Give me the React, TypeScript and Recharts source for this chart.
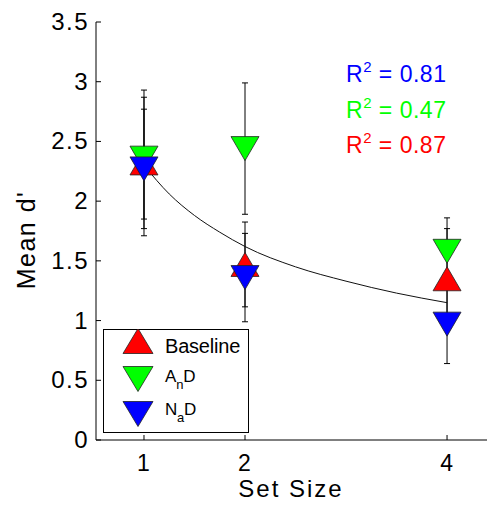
import { ComposedChart, Scatter, Line, XAxis, YAxis, ErrorBar, Legend } from "recharts";

// set sizes on the x axis
const setSizes = [1, 2, 4];

// mean d' and error half-widths
const baselineMean = [2.32, 1.47, 1.35];
const baselineErr = [0.61, 0.355, 0.42];
const andMean = [2.36, 2.44, 1.58];
const andErr = [0.51, 0.55, 0.28];
const nadMean = [2.27, 1.36, 0.97];
const nadErr = [0.5, 0.37, 0.33];

// fitted curve, points
const fitX = [1, 1.25, 1.5, 1.75, 2, 2.5, 3, 3.5, 4];
const fitY = [2.3, 2.06, 1.88, 1.74, 1.62, 1.45, 1.33, 1.23, 1.15];

const yTicks = [0, 0.5, 1, 1.5, 2, 2.5, 3, 3.5];

const rSquared = [
    { label: "0.81", color: "#0000FF" },
    { label: "0.47", color: "#00FF00" },
    { label: "0.87", color: "#FF0000" },
];

const FONT = "'Liberation Sans', Arial, sans-serif";

const toPoints = (means: number[], errs: number[]) =>
    setSizes.map((x, i) => ({ x, y: means[i], err: errs[i] }));

const baselineData = toPoints(baselineMean, baselineErr);
const andData = toPoints(andMean, andErr);
const nadData = toPoints(nadMean, nadErr);
const fitData = fitX.map((x, i) => ({ x, y: fitY[i] }));

const PLOT_TOP = 22;
const PLOT_BOTTOM = 440;
const PLOT_LEFT = 96;
// the axes box runs past the right edge of the picture, as in the original
const CHART_W = 492;
const X_DOMAIN = [0.525, 4.445];

function triangle(cx: number, cy: number, up: boolean, w = 28, h = 24) {
    const hw = w / 2;
    const hh = h / 2;
    return up
        ? `M${cx - hw},${cy + hh} L${cx + hw},${cy + hh} L${cx},${cy - hh} Z`
        : `M${cx - hw},${cy - hh} L${cx + hw},${cy - hh} L${cx},${cy + hh} Z`;
}

const makeShape = (fill: string, up: boolean) => (props: any) => {
    const { cx, cy } = props;
    if (cx == null || cy == null) return <g />;
    return <path d={triangle(cx, cy, up)} fill={fill} stroke="#222" strokeWidth={0.8} />;
};

const BottomTick = (props: any) => {
    const { x, payload } = props;
    return (
        <g>
            <line x1={x} y1={PLOT_BOTTOM} x2={x} y2={PLOT_BOTTOM - 5} stroke="#000" />
            <text x={x} y={PLOT_BOTTOM + 31} textAnchor="middle" fontSize={23} fontFamily={FONT} fill="#000" letterSpacing={1}>
                {payload.value}
            </text>
        </g>
    );
};

const TopTick = (props: any) => {
    const { x } = props;
    return <line x1={x} y1={PLOT_TOP} x2={x} y2={PLOT_TOP + 5} stroke="#000" />;
};

const LeftTick = (props: any) => {
    const { y, payload } = props;
    return (
        <g>
            <line x1={PLOT_LEFT} y1={y} x2={PLOT_LEFT + 5} y2={y} stroke="#000" />
            <text x={PLOT_LEFT - 7} y={y + 8} textAnchor="end" fontSize={24} fontFamily={FONT} fill="#000" letterSpacing={1.5}>
                {payload.value}
            </text>
        </g>
    );
};

const legendRows = [
    { fill: "#FF0000", up: true, main: "Baseline", sub: "", tail: "", cy: 12, base: 24, size: 20 },
    { fill: "#00FF00", up: false, main: "A", sub: "n", tail: "D", cy: 50, base: 52.5, size: 17 },
    { fill: "#0000FF", up: false, main: "N", sub: "a", tail: "D", cy: 85, base: 86, size: 17 },
];

const LegendBox = () => (
    <svg width={146} height={104} style={{ display: "block" }}>
        <rect x={0.5} y={0.5} width={145} height={103} fill="#fff" stroke="#000" />
        {legendRows.map((r) => (
            <g key={r.main}>
                <path d={triangle(35, r.cy, r.up, 30, 25)} fill={r.fill} stroke="#222" strokeWidth={0.8} />
                <text x={62} y={r.base} fontSize={r.size} fontFamily={FONT} fill="#000" letterSpacing={-0.2}>
                    {r.main}
                    {r.sub && (
                        <tspan dy={7} fontSize={13}>
                            {r.sub}
                        </tspan>
                    )}
                    {r.tail && <tspan dy={-7}>{r.tail}</tspan>}
                </text>
            </g>
        ))}
    </svg>
);

export default function App() {
    return (
        <div
            style={{
                position: "absolute",
                left: 0,
                top: 0,
                width: 487,
                height: 506,
                overflow: "hidden",
                background: "#fff",
            }}
        >
            <ComposedChart
                width={CHART_W}
                height={506}
                margin={{ top: PLOT_TOP, right: 0, bottom: 0, left: 0 }}
            >
                <XAxis
                    dataKey="x"
                    type="number"
                    domain={X_DOMAIN}
                    ticks={setSizes}
                    allowDataOverflow
                    height={66}
                    tickSize={0}
                    tickMargin={0}
                    tickLine={false}
                    axisLine={{ stroke: "#000" }}
                    tick={<BottomTick />}
                />
                <XAxis
                    xAxisId="top"
                    dataKey="x"
                    type="number"
                    orientation="top"
                    domain={X_DOMAIN}
                    ticks={setSizes}
                    allowDataOverflow
                    height={0}
                    tickSize={0}
                    tickMargin={0}
                    tickLine={false}
                    axisLine={{ stroke: "#000" }}
                    tick={<TopTick />}
                />
                <YAxis
                    dataKey="y"
                    type="number"
                    domain={[0, 3.5]}
                    ticks={yTicks}
                    allowDataOverflow
                    width={96}
                    tickSize={0}
                    tickMargin={0}
                    tickLine={false}
                    axisLine={{ stroke: "#000" }}
                    tick={<LeftTick />}
                />
                <Legend
                    layout="vertical"
                    align="center"
                    verticalAlign="middle"
                    content={() => <LegendBox />}
                    wrapperStyle={{ left: 103, top: 329, width: 146, height: 104 }}
                />
                <Scatter name="Baseline" data={baselineData} shape={makeShape("#FF0000", true)} isAnimationActive={false}>
                    <ErrorBar dataKey="err" direction="y" width={3} stroke="#000" strokeWidth={1} />
                </Scatter>
                <Scatter name="AnD" data={andData} shape={makeShape("#00FF00", false)} isAnimationActive={false}>
                    <ErrorBar dataKey="err" direction="y" width={3} stroke="#000" strokeWidth={1} />
                </Scatter>
                <Scatter name="NaD" data={nadData} shape={makeShape("#0000FF", false)} isAnimationActive={false}>
                    <ErrorBar dataKey="err" direction="y" width={3} stroke="#000" strokeWidth={1} />
                </Scatter>
                <Line
                    data={fitData}
                    dataKey="y"
                    type="monotone"
                    stroke="#111"
                    strokeWidth={1}
                    dot={false}
                    legendType="none"
                    isAnimationActive={false}
                />
            </ComposedChart>
            <svg
                width={487}
                height={506}
                style={{ position: "absolute", left: 0, top: 0, pointerEvents: "none" }}
            >
                {rSquared.map((r, i) => (
                    <text key={r.label} x={346} y={82 + i * 35.5} fontSize={23} fontFamily={FONT} fill={r.color} letterSpacing={0.5}>
                        R
                        <tspan dy={-10} fontSize={15}>2</tspan>
                        <tspan dy={10}>{` = ${r.label}`}</tspan>
                    </text>
                ))}
                <text x={291} y={497} textAnchor="middle" fontSize={24} fontFamily={FONT} fill="#000" letterSpacing={2}>
                    Set Size
                </text>
                <text
                    x={35}
                    y={240}
                    textAnchor="middle"
                    fontSize={25}
                    fontFamily={FONT}
                    fill="#000"
                    letterSpacing={1.5}
                    transform="rotate(-90 35 240)"
                >
                    Mean d'
                </text>
            </svg>
        </div>
    );
}
